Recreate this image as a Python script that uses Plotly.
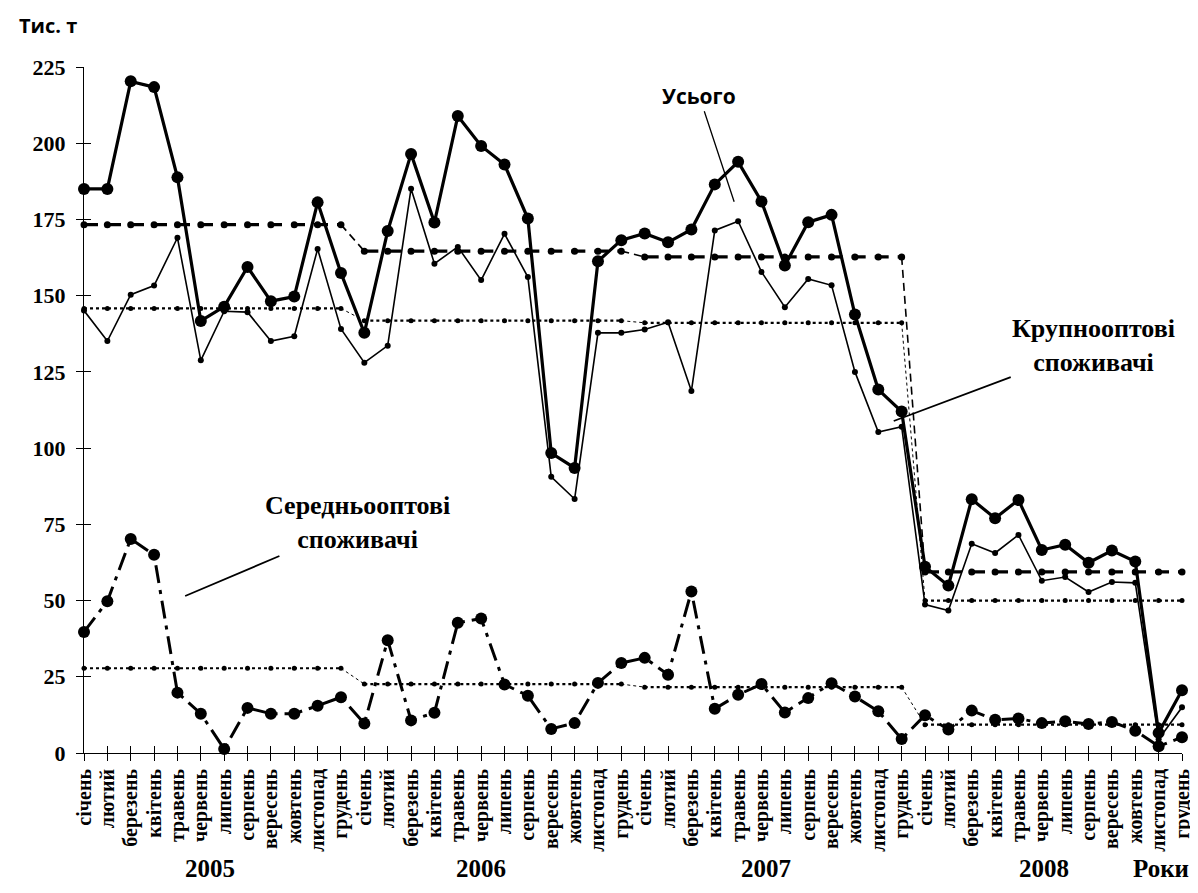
import plotly.graph_objects as go

# ---------------- data ----------------
months = ["січень", "лютий", "березень", "квітень", "травень", "червень",
          "липень", "серпень", "вересень", "жовтень", "листопад", "грудень"]
years = ["2005", "2006", "2007", "2008"]
month_labels = months * 4
y_ticks = [0, 25, 50, 75, 100, 125, 150, 175, 200, 225]

# Усього (тис. т)
total = [185.0, 185.0, 220.3, 218.4, 188.8, 141.7, 146.4, 159.4, 148.2, 149.7, 180.6, 157.4,
         137.8, 171.2, 196.5, 174.0, 208.9, 199.1, 193.0, 175.3, 98.4, 93.5, 161.3, 168.2,
         170.4, 167.5, 171.7, 186.5, 193.9, 180.9, 159.9, 174.1, 176.5, 143.8, 119.2, 112.0,
         61.1, 54.9, 83.2, 77.0, 83.0, 66.6, 68.3, 62.4, 66.4, 62.8, 6.6, 20.6]
# Крупнооптові споживачі
large = [145.1, 135.1, 150.3, 153.3, 169.0, 128.8, 144.9, 144.6, 135.1, 136.7, 165.3, 139.1,
         128.0, 133.6, 185.1, 160.5, 166.0, 155.1, 170.3, 156.1, 90.6, 83.3, 137.8, 137.8,
         138.9, 141.3, 118.7, 171.4, 174.4, 157.8, 146.2, 155.5, 153.4, 125.0, 105.3, 107.0,
         48.7, 46.7, 68.6, 65.6, 71.5, 56.5, 57.7, 52.8, 56.1, 55.8, 4.5, 15.0]
# Середньооптові споживачі
medium = [39.7, 49.8, 70.2, 65.0, 19.8, 12.9, 1.3, 14.8, 12.9, 12.9, 15.5, 18.3,
          9.7, 37.0, 10.7, 13.2, 42.7, 44.1, 22.5, 18.8, 7.9, 9.8, 23.0, 29.5,
          31.2, 25.7, 53.0, 14.5, 19.1, 22.6, 13.3, 18.0, 22.9, 18.5, 13.7, 4.6,
          12.4, 7.7, 13.9, 10.9, 11.3, 9.8, 10.4, 9.5, 10.2, 7.3, 2.2, 5.2]

# yearly averages
total_avg = [173.3, 164.6, 162.7, 59.4]
large_avg = [145.8, 141.8, 141.1, 50.0]
medium_avg = [27.8, 22.6, 21.6, 9.3]

# ---------------- helpers ----------------
x = list(range(len(month_labels)))


def yearly_blocks(avg):
    xs, ys = [], []
    for k, v in enumerate(avg):
        xs += [12 * k + m for m in range(12)] + [None]
        ys += [v] * 12 + [None]
    return xs, ys


def connectors(avg):
    xs, ys = [], []
    for k in range(len(avg) - 1):
        xs += [12 * k + 11, 12 * k + 12, None]
        ys += [avg[k], avg[k + 1], None]
    return xs, ys


SERIF = "Liberation Serif"
SANS = "Open Sans"
BLACK = "#000000"

fig = go.Figure()

# averages on the overlay axes (x2/y2)
for avg, dash, width, msize, cdash, cwidth in [
    (large_avg, "dot", 2.2, 5, "dot", 1.0),
    (medium_avg, "dot", 2.2, 5, "dot", 1.0),
    (total_avg, "14px,9px", 3.2, 7, "8px,5px", 1.6),
]:
    cx, cy = connectors(avg)
    fig.add_trace(go.Scatter(x=cx, y=cy, mode="lines", xaxis="x2", yaxis="y2",
                             line=dict(color=BLACK, width=cwidth, dash=cdash),
                             hoverinfo="skip", showlegend=False, cliponaxis=False))
    bx, by = yearly_blocks(avg)
    fig.add_trace(go.Scatter(x=bx, y=by, mode="lines+markers", xaxis="x2", yaxis="y2",
                             line=dict(color=BLACK, width=width, dash=dash),
                             marker=dict(color=BLACK, size=msize),
                             hoverinfo="skip", showlegend=False, cliponaxis=False))

# Крупнооптові
fig.add_trace(go.Scatter(x=x, y=large, mode="lines+markers",
                         line=dict(color=BLACK, width=1.6),
                         marker=dict(color=BLACK, size=6),
                         showlegend=False, cliponaxis=False))
# Середньооптові
fig.add_trace(go.Scatter(x=x, y=medium, mode="lines+markers",
                         line=dict(color=BLACK, width=3, dash="18px,7px,4px,7px"),
                         marker=dict(color=BLACK, size=12),
                         showlegend=False, cliponaxis=False))
# Усього
fig.add_trace(go.Scatter(x=x, y=total, mode="lines+markers",
                         line=dict(color=BLACK, width=3.2),
                         marker=dict(color=BLACK, size=12),
                         showlegend=False, cliponaxis=False))

axis_common = dict(showgrid=False, zeroline=False)

fig.update_layout(
    width=1198, height=893,
    margin=dict(l=76, r=14, t=59, b=148),
    paper_bgcolor="white", plot_bgcolor="white",
    showlegend=False,
    xaxis=dict(range=[0, 47], tickmode="array", tickvals=x, ticktext=month_labels,
               tickangle=-90, ticks="outside", ticklen=7, tickcolor=BLACK,
               showline=True, linecolor=BLACK, linewidth=1,
               tickfont=dict(family=SERIF, size=20, color=BLACK, weight="bold"),
               **axis_common),
    yaxis=dict(range=[0, 225], tickmode="array", tickvals=y_ticks,
               ticks="outside", ticklen=7, tickcolor=BLACK, ticklabelstandoff=6,
               showline=True, linecolor=BLACK, linewidth=1,
               tickfont=dict(family=SERIF, size=22, color=BLACK, weight="bold"),
               **axis_common),
    xaxis2=dict(range=[0, 47], overlaying="x", anchor="y2", tickmode="array",
                tickvals=x, ticks="inside", ticklen=7, tickcolor=BLACK,
                showticklabels=False, showline=False, **axis_common),
    yaxis2=dict(range=[0, 225], overlaying="y", anchor="x2", tickmode="array",
                tickvals=y_ticks, ticks="inside", ticklen=7, tickcolor=BLACK,
                showticklabels=False, showline=False, **axis_common),
)

annotations = []
# year labels
for yr, xc in zip(years, [5.4, 17.0, 29.2, 41.1]):
    annotations.append(dict(x=xc, y=-0.168, xref="x", yref="paper", text=yr,
                            showarrow=False, xanchor="center", yanchor="middle",
                            font=dict(family=SERIF, size=25, color=BLACK, weight="bold")))
annotations.append(dict(x=46.1, y=-0.168, xref="x", yref="paper", text="Роки",
                        showarrow=False, xanchor="center", yanchor="middle",
                        font=dict(family=SERIF, size=25, color=BLACK, weight="bold")))
# unit label
annotations.append(dict(x=(40 - 76) / 1108, y=(745 - 18) / 686, xref="paper", yref="paper",
                        text="Тис. т", showarrow=False, xanchor="center", yanchor="middle",
                        font=dict(family=SANS, size=20, color=BLACK, weight="bold")))

# series callouts with pointer lines
annotations.append(dict(x=27.83, y=180.8, xref="x", yref="y", text="Усього",
                        showarrow=True, arrowhead=0, arrowwidth=1.3, arrowcolor=BLACK,
                        ax=-35, ay=-106, standoff=0,
                        font=dict(family=SANS, size=21, color=BLACK, weight="bold")))
annotations.append(dict(x=34.66, y=108.9, xref="x", yref="y",
                        text="Крупнооптові<br>споживачі",
                        showarrow=True, arrowhead=0, arrowwidth=1.8, arrowcolor=BLACK,
                        ax=200, ay=-75, standoff=0, align="center",
                        font=dict(family=SERIF, size=26, color=BLACK, weight="bold")))
annotations.append(dict(x=4.33, y=51.5, xref="x", yref="y",
                        text="Середньооптові<br>споживачі",
                        showarrow=True, arrowhead=0, arrowwidth=1.8, arrowcolor=BLACK,
                        ax=172, ay=-73, standoff=0, align="center",
                        font=dict(family=SERIF, size=26, color=BLACK, weight="bold")))
fig.update_layout(annotations=annotations)

fig.write_html("out.html")
